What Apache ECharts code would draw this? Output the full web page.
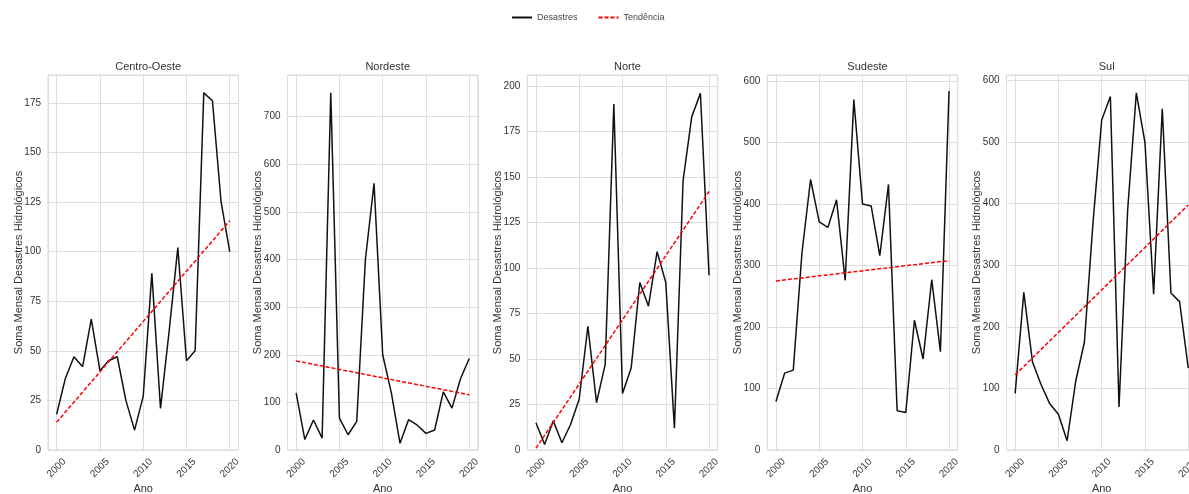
<!DOCTYPE html>
<html>
<head>
<meta charset="utf-8">
<script src="https://cdn.jsdelivr.net/npm/echarts@6/dist/echarts.min.js"></script>
<style>html,body{margin:0;padding:0;background:#fff;}#c{width:1189px;height:494px;}</style>
</head>
<body>
<div id="c"></div>
<script>
const years = [2000,2001,2002,2003,2004,2005,2006,2007,2008,2009,2010,2011,2012,2013,2014,2015,2016,2017,2018,2019,2020];
const regions = ['Centro-Oeste','Nordeste','Norte','Sudeste','Sul'];
const centroOeste = [18,36,47,42,66,40,45,47,25,10,27,89,21,60,102,45,50,180,176,125,100];
const nordeste = [120,22,63,25,750,67,32,60,400,560,200,120,14,64,52,35,42,122,88,150,192];
const norte = [15,3,16,4,14,28,68,26,47,190,31,45,92,79,109,92,12,148,183,196,96];
const sudeste = [79,125,130,320,440,371,362,407,276,570,400,397,316,432,64,61,211,148,277,160,584];
const sul = [92,256,143,106,75,58,15,112,175,370,536,574,70,390,580,499,253,554,255,241,133];
const trendYears = [2000,2020];
const trendCentroOeste = [14,115.5];
const trendNordeste = [187,116];
const trendNorte = [1,142];
const trendSudeste = [275,308];
const trendSul = [122,398];
const yTickStep = [25,100,25,100,100];
const yTop = [189,787.5,206,610,609];
const xTickLabels = ['2000','2005','2010','2015','2020'];

const seriesValues = [centroOeste, nordeste, norte, sudeste, sul];
const trendValues = [trendCentroOeste, trendNordeste, trendNorte, trendSudeste, trendSul];

const lefts = [48, 287.5, 527.3, 767.3, 1006.5];
const gw = 190.4;
const textColor = '#333';
const font = '"Liberation Sans", Arial, sans-serif';

const grids = [], xAxes = [], yAxes = [], series = [], titles = [];
regions.forEach((r, i) => {
  grids.push({left: lefts[i], width: gw, top: 75, height: 375, show: true, borderColor: '#d4d4d4', borderWidth: 1,
    containLabel: false, outerBoundsMode: 'none'});
  titles.push({text: r, left: lefts[i] + gw / 2, top: 56, textAlign: 'center',
    textStyle: {fontSize: 11, fontWeight: 'normal', color: textColor, fontFamily: font}});
  xAxes.push({type: 'value', gridIndex: i, min: 1999, max: 2021, splitNumber: 5,
    name: 'Ano', nameLocation: 'middle', nameGap: 33, nameMoveOverlap: false,
    nameTextStyle: {fontSize: 11, color: textColor, fontFamily: font},
    axisLine: {show: false}, axisTick: {show: false},
    axisLabel: {rotate: 45, align: 'center', verticalAlign: 'middle', margin: 18, fontSize: 10, color: textColor, fontFamily: font,
      showMinLabel: false, showMaxLabel: false,
      formatter: v => xTickLabels.indexOf(String(v)) >= 0 ? String(v) : ''},
    splitLine: {show: true, lineStyle: {color: '#dedede', width: 1}}});
  yAxes.push({type: 'value', gridIndex: i, min: 0, max: yTop[i], interval: yTickStep[i],
    name: 'Soma Mensal Desastres Hidrológicos', nameLocation: 'middle', nameGap: 24, nameMoveOverlap: false,
    nameTextStyle: {fontSize: 11, color: textColor, fontFamily: font},
    axisLine: {show: false}, axisTick: {show: false},
    axisLabel: {fontSize: 10, color: textColor, fontFamily: font, margin: 7, showMaxLabel: false,
      formatter: v => (v % yTickStep[i] === 0 ? String(v) : '')},
    splitLine: {show: true, lineStyle: {color: '#dedede', width: 1}}});
  series.push({name: 'Desastres', type: 'line', xAxisIndex: i, yAxisIndex: i,
    data: years.map((y, k) => [y, seriesValues[i][k]]),
    symbol: 'none', lineStyle: {color: '#111', width: 1.5}, itemStyle: {color: '#111'}, animation: false, z: 3});
  series.push({name: 'Tendência', type: 'line', xAxisIndex: i, yAxisIndex: i,
    data: trendYears.map((y, k) => [y, trendValues[i][k]]),
    symbol: 'none', lineStyle: {color: '#ff0000', width: 1.5, type: [4, 2]}, itemStyle: {color: '#ff0000'}, animation: false, z: 4});
});

const chart = echarts.init(document.getElementById('c'), null, {renderer: 'canvas'});
chart.setOption({
  backgroundColor: '#fff',
  animation: false,
  title: titles,
  legend: {show: true, top: 8, left: 506, itemWidth: 20, itemHeight: 10, itemGap: 20,
    itemStyle: {opacity: 0},
    data: ['Desastres', 'Tendência'],
    textStyle: {fontSize: 9, color: '#444', fontFamily: font}},
  grid: grids, xAxis: xAxes, yAxis: yAxes, series: series
});
</script>
</body>
</html>
